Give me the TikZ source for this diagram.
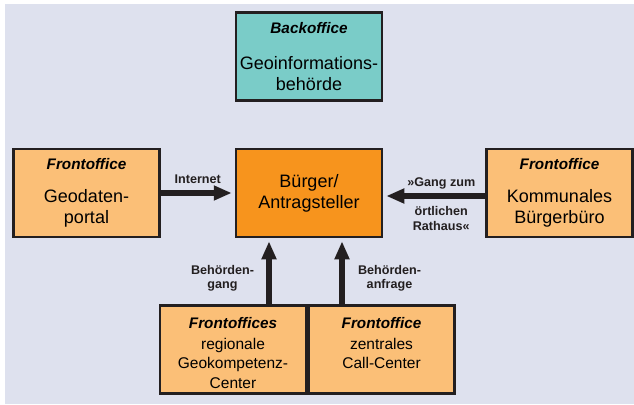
\documentclass[tikz,border=0pt]{standalone}
\usepackage{fontspec}
\setmainfont{Liberation Sans}
\usetikzlibrary{positioning, calc, arrows.meta}

\definecolor{bgblue}{RGB}{222,225,238}
\definecolor{officeorange}{RGB}{251,191,119}
\definecolor{citizenorange}{RGB}{247,148,29}
\definecolor{backteal}{RGB}{122,204,200}
\definecolor{edgegray}{RGB}{35,31,32}

\newcommand{\officetitle}[1]{{\fontsize{15.3}{18}\selectfont\bfseries\itshape #1}}

\begin{document}
\begin{tikzpicture}[
        x=1pt, y=-1pt,
        node distance=74pt and 74pt,
        office/.style={rectangle, draw=edgegray, fill=officeorange, line width=2.5pt, minimum width=146pt, minimum height=88pt, align=center, inner sep=2pt, font=\fontsize{18}{21}\selectfont},
        citizen/.style={office, fill=citizenorange},
        backbox/.style={office, fill=backteal},
        lowoffice/.style={office, font=\fontsize{15.5}{19.5}\selectfont},
        arrow/.style={-{Triangle[length=18pt, width=14pt]}, line width=6pt, draw=edgegray, shorten >=3pt},
        flowlabel/.style={font=\fontsize{12.6}{14}\selectfont\bfseries, text=edgegray, align=center, inner sep=1pt}
    ]
        \fill[bgblue] (4.5,4) rectangle (634,404);
        \useasboundingbox (0,0) rectangle (634,404);

        \node[citizen] (buerger) at (309,193) {Bürger/\\Antragsteller};

        \node[backbox, above=46pt of buerger] (backoffice) {\officetitle{Backoffice}\\[15pt]Geoinformations-\\behörde};

        \node[office, left=74pt of buerger] (portal) {\officetitle{Frontoffice}\\[12.5pt]Geodaten-\\portal};

        \node[office, right=102pt of buerger] (rathaus) {\officetitle{Frontoffice}\\[12.5pt]Kommunales\\Bürgerbüro};

        \node[lowoffice, text height=77.5pt] (geokomp) at (233,349.5) {\officetitle{Frontoffices}\\[1pt]regionale\\Geokompetenz-\\Center};

        \node[lowoffice, right=0pt of geokomp, text height=58pt, text depth=19.5pt] (callcenter) {\officetitle{Frontoffice}\\[1pt]zentrales\\Call-Center};

        \coordinate (gang) at ($(buerger.south)+(-40,0)$);
        \coordinate (anfrage) at ($(buerger.south)+(33,0)$);

        \draw[arrow] (portal) -- (buerger) node[flowlabel, midway, above=5pt] {Internet};

        \draw[arrow] ($(rathaus.west)+(0,3)$) -- ($(buerger.east)+(0,3)$)
            node[flowlabel, midway, above=3pt, xshift=7pt] {»Gang zum}
            node[flowlabel, font=\fontsize{12.6}{15.5}\selectfont\bfseries, midway, below=6pt, xshift=7pt] {örtlichen\\Rathaus«};

        \draw[arrow] (gang |- geokomp.north) -- (gang) node[flowlabel, pos=0.40, left=11pt] {Behörden-\\gang};

        \draw[arrow] (anfrage |- callcenter.north) -- (anfrage) node[flowlabel, pos=0.40, right=12pt] {Behörden-\\anfrage};
    \end{tikzpicture}
\end{document}
